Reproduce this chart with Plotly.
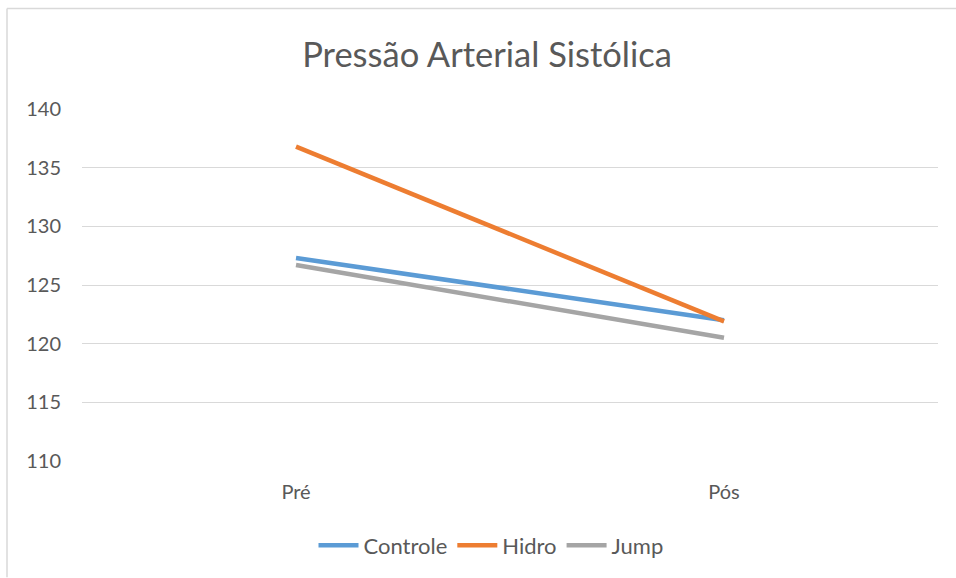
import plotly.graph_objects as go

# Systolic blood pressure before/after, per group
momentos = ["Pré", "Pós"]
controle = [127.3, 122.0]
hidro = [136.8, 121.9]
jump = [126.7, 120.5]

series = [
    ("Controle", controle, "#5B9BD5"),
    ("Hidro", hidro, "#ED7D31"),
    ("Jump", jump, "#A5A5A5"),
]

FONT = "Lato"
GREY_TEXT = "#595959"

fig = go.Figure()
for nome, valores, cor in series:
    fig.add_trace(go.Scatter(
        x=momentos, y=valores, name=nome, mode="lines",
        line=dict(color=cor, width=4.5),
    ))

fig.update_layout(
    width=956, height=578,
    margin=dict(l=82, r=18, t=109, b=115),
    paper_bgcolor="white", plot_bgcolor="white",
    font=dict(family=FONT, color=GREY_TEXT, size=20),
    title=dict(
        text="Pressão Arterial Sistólica",
        x=487 / 956, xref="container", xanchor="center",
        y=1 - 55 / 578, yref="container", yanchor="middle",
        font=dict(family=FONT, size=34.5, color=GREY_TEXT),
    ),
    xaxis=dict(
        type="category", range=[-0.5, 1.5],
        showgrid=False, zeroline=False, showline=False,
        ticks="", ticklabelstandoff=17,
        tickfont=dict(size=20, color=GREY_TEXT),
    ),
    yaxis=dict(
        range=[110, 140], tick0=110, dtick=5,
        showgrid=True, gridcolor="#D9D9D9", gridwidth=1,
        zeroline=False, showline=False,
        ticks="", ticklabelstandoff=20,
        tickfont=dict(size=20, color=GREY_TEXT),
    ),
    legend=dict(
        orientation="h", xref="paper", yref="paper",
        x=(491 - 82) / 856, xanchor="center",
        y=(463 - 548) / 354, yanchor="middle",
        font=dict(size=22, color=GREY_TEXT),
        itemwidth=40, traceorder="normal",
    ),
    showlegend=True,
)

# Chart frame (left and top edges)
px_x = lambda p: (p - 82) / 856
px_y = lambda p: (463 - p) / 354
fig.add_shape(type="line", xref="paper", yref="paper",
              x0=px_x(7), x1=px_x(7), y0=px_y(8), y1=px_y(580),
              line=dict(color="#D9D9D9", width=1.5))
fig.add_shape(type="line", xref="paper", yref="paper",
              x0=px_x(7), x1=px_x(960), y0=px_y(8), y1=px_y(8),
              line=dict(color="#D9D9D9", width=1.5))

fig.write_html("out.html")
